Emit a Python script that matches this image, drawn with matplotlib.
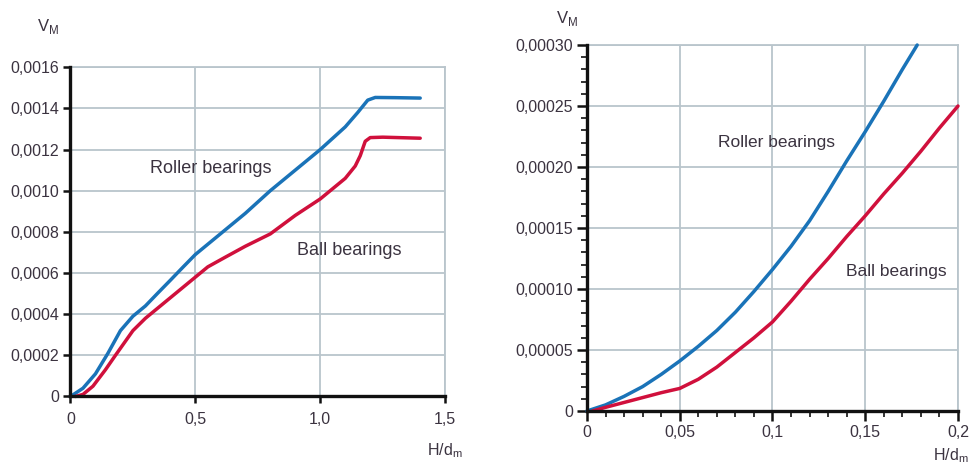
import numpy as np
import matplotlib
matplotlib.use("Agg")
import matplotlib.pyplot as plt
from matplotlib.ticker import FixedLocator, FixedFormatter, MultipleLocator

plt.rcParams['font.family'] = ['Liberation Sans', 'DejaVu Sans']

# Left chart: full range
left_roller_x = [0, 0.05, 0.1, 0.15, 0.2, 0.25, 0.3, 0.35, 0.4, 0.45, 0.5, 0.6, 0.7, 0.8, 0.9, 1.0, 1.1, 1.15, 1.19, 1.22, 1.3, 1.4]
left_roller_y = [0, 0.00004, 0.00011, 0.00021, 0.00032, 0.00039, 0.00044, 0.000503, 0.000565, 0.000628, 0.00069, 0.00079, 0.00089,
                 0.001, 0.0011, 0.0012, 0.00131, 0.00138, 0.00144, 0.001453, 0.001452, 0.00145]
left_ball_x = [0.02, 0.05, 0.09, 0.14, 0.18, 0.25, 0.3, 0.38, 0.5, 0.55, 0.62, 0.7, 0.8, 0.9, 1.0, 1.05, 1.1, 1.14, 1.16, 1.18, 1.2, 1.25, 1.4]
left_ball_y = [0, 0.00001, 0.00005, 0.00013, 0.0002, 0.00032, 0.00038, 0.00046, 0.00058, 0.00063, 0.000677, 0.00073, 0.00079, 0.00088,
               0.00096, 0.00101, 0.00106, 0.00112, 0.00117, 0.00124, 0.001258, 0.00126, 0.001255]
left_xticks = [0, 0.5, 1.0, 1.5]
left_xlabels = ['0', '0,5', '1,0', '1,5']
left_yticks = [0, 0.0002, 0.0004, 0.0006, 0.0008, 0.0010, 0.0012, 0.0014, 0.0016]
left_ylabels = ['0', '0,0002', '0,0004', '0,0006', '0,0008', '0,0010', '0,0012', '0,0014', '0,0016']

# Right chart: zoom on small H/dm
right_roller_x = [0, 0.01, 0.02, 0.03, 0.04, 0.05, 0.06, 0.07, 0.08, 0.09, 0.1, 0.11, 0.12, 0.13, 0.14, 0.15, 0.16, 0.17, 0.178]
right_roller_y = [0, 0.5e-5, 1.2e-5, 2.0e-5, 3.0e-5, 4.1e-5, 5.3e-5, 6.6e-5, 8.1e-5, 9.8e-5, 11.6e-5, 13.5e-5, 15.6e-5,
                  18.0e-5, 20.5e-5, 22.9e-5, 25.4e-5, 28.0e-5, 30.0e-5]
right_ball_x = [0.003, 0.01, 0.02, 0.03, 0.04, 0.05, 0.06, 0.07, 0.08, 0.09, 0.1, 0.11, 0.12, 0.13, 0.14, 0.15, 0.16, 0.17, 0.18, 0.19, 0.2]
right_ball_y = [0, 0.3e-5, 0.7e-5, 1.1e-5, 1.5e-5, 1.85e-5, 2.6e-5, 3.6e-5, 4.8e-5, 6.0e-5, 7.3e-5, 9.0e-5, 10.8e-5,
                12.5e-5, 14.3e-5, 16.0e-5, 17.8e-5, 19.5e-5, 21.3e-5, 23.2e-5, 25e-5]
right_xticks = [0, 0.05, 0.1, 0.15, 0.2]
right_xlabels = ['0', '0,05', '0,1', '0,15', '0,2']
right_yticks = [0, 0.00005, 0.0001, 0.00015, 0.0002, 0.00025, 0.0003]
right_ylabels = ['0', '0,00005', '0,00010', '0,00015', '0,00020', '0,00025', '0,00030']

blue = '#1a73b8'
red = '#d0103c'
grid_c = '#b9c5cc'
text_c = '#3b3340'

fig = plt.figure(figsize=(9.72, 4.68), dpi=100)
ax1 = fig.add_axes([0.0725, 0.1528, 0.3855, 0.7036])
ax2 = fig.add_axes([0.6039, 0.1218, 0.3817, 0.782])


def style(ax, xt, xl, yt, yl, xlim, ylim, major_len):
    ax.set_xlim(*xlim)
    ax.set_ylim(*ylim)
    ax.xaxis.set_major_locator(FixedLocator(xt))
    ax.xaxis.set_major_formatter(FixedFormatter(xl))
    ax.yaxis.set_major_locator(FixedLocator(yt))
    ax.yaxis.set_major_formatter(FixedFormatter(yl))
    ax.grid(True, color=grid_c, linewidth=1.3)
    ax.set_axisbelow(True)
    for s in ['top', 'right']:
        ax.spines[s].set_color(grid_c)
        ax.spines[s].set_linewidth(1.3)
    for s in ['left', 'bottom']:
        ax.spines[s].set_color('#111111')
        ax.spines[s].set_linewidth(2.4)
        ax.spines[s].set_zorder(5)
    ax.tick_params(which='major', direction='out', length=major_len, width=1.8, color='#111111',
                   labelsize=11.5, labelcolor=text_c, pad=3)
    ax.tick_params(which='minor', direction='out', length=4, width=1.2, color='#111111')


line_kw = dict(linewidth=2.5, clip_on=False, zorder=3, solid_joinstyle='round', solid_capstyle='round')

style(ax1, left_xticks, left_xlabels, left_yticks, left_ylabels, (0, 1.5), (0, 0.0016), 5)
ax1.tick_params(axis='x', pad=6)
ax1.plot(left_roller_x, left_roller_y, color=blue, **line_kw)
ax1.plot(left_ball_x, left_ball_y, color=red, **line_kw)
ax1.text(0.32, 0.00111, 'Roller bearings', fontsize=13, color=text_c, va='center')
ax1.text(0.905, 0.00071, 'Ball bearings', fontsize=13, color=text_c, va='center')

style(ax2, right_xticks, right_xlabels, right_yticks, right_ylabels, (0, 0.2), (0, 0.0003), 7)
ax2.xaxis.set_minor_locator(MultipleLocator(0.01))
ax2.yaxis.set_minor_locator(MultipleLocator(0.00001))
ax2.plot(right_roller_x, right_roller_y, color=blue, **line_kw)
ax2.plot(right_ball_x, right_ball_y, color=red, **line_kw)
ax2.text(0.0706, 0.00022, 'Roller bearings', fontsize=12.5, color=text_c, va='center')
ax2.text(0.1396, 0.000114, 'Ball bearings', fontsize=12.5, color=text_c, va='center')

fig.text(48 / 972, 1 - 27 / 468, r'V$_\mathregular{M}$', fontsize=12, color=text_c, ha='center', va='center')
fig.text(567 / 972, 1 - 18 / 468, r'V$_\mathregular{M}$', fontsize=12, color=text_c, ha='center', va='center')
fig.text(445 / 972, 1 - 451 / 468, r'H/d$_\mathregular{m}$', fontsize=11.5, color=text_c, ha='center', va='center')
fig.text(951 / 972, 1 - 456 / 468, r'H/d$_\mathregular{m}$', fontsize=11.5, color=text_c, ha='center', va='center')

fig.savefig('out.png', dpi=100)
